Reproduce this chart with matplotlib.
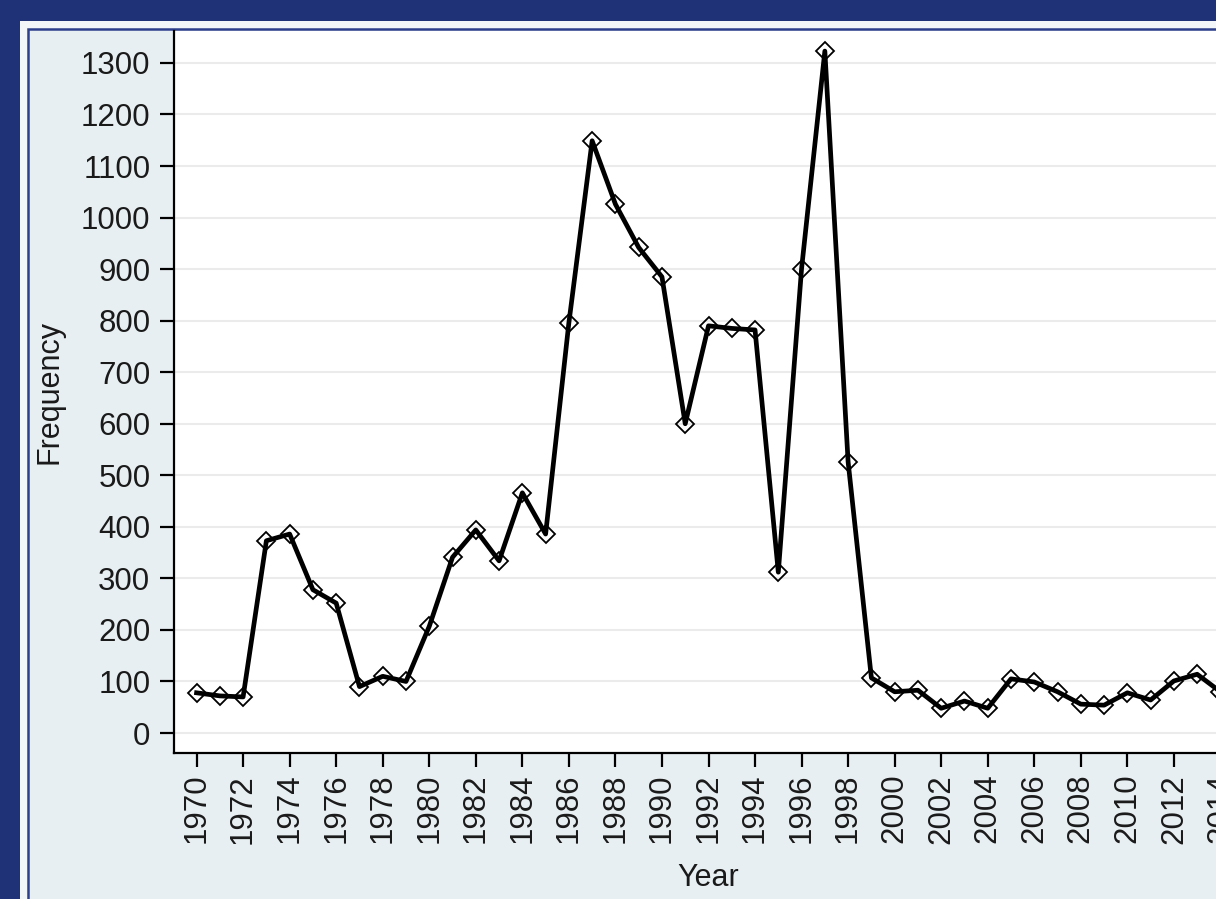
import matplotlib
matplotlib.use("Agg")
import matplotlib.pyplot as plt
from matplotlib.patches import Rectangle

plt.rcParams['font.family'] = ['Liberation Sans', 'DejaVu Sans']

years = list(range(1970, 2015))
frequency = [78, 72, 70, 373, 386, 278, 252, 90, 110, 100,
             207, 341, 394, 334, 466, 386, 796, 1149, 1026, 942,
             885, 600, 790, 785, 782, 312, 901, 1323, 526, 107,
             80, 83, 48, 62, 48, 105, 99, 80, 56, 54,
             78, 64, 101, 114, 80]
y_ticks = list(range(0, 1301, 100))
x_ticks = list(range(1970, 2015, 2))

W, H = 1216, 899
navy = '#1f3177'
fig = plt.figure(figsize=(W / 100, H / 100), dpi=100, facecolor=navy)

# outer light frame
fig.add_artist(Rectangle((20 / W, -0.01), 1.0, (H - 21) / H + 0.01,
                         transform=fig.transFigure, facecolor='#f3f6f8',
                         edgecolor='none', zorder=0))
# inner panel with blue border
fig.add_artist(Rectangle((28 / W, -0.02), 1.0, (H - 28.5) / H + 0.02,
                         transform=fig.transFigure, facecolor='#e8eff2',
                         edgecolor='#2d3f8c', linewidth=1.8, zorder=0))

ax_left, ax_right = 174, 1243
ax_top, ax_bottom = 31, 753
ax = fig.add_axes([ax_left / W, (H - ax_bottom) / H,
                   (ax_right - ax_left) / W, (ax_bottom - ax_top) / H])
ax.set_facecolor('white')

ax.plot(years, frequency, color='black', lw=3.4, marker='D', ms=9.5,
        mfc='none', mec='black', mew=1.3, zorder=3)

ax.set_xlim(1969.03, 2014.97)
ax.set_ylim(-38.8, 1362)
ax.set_yticks(y_ticks)
ax.set_xticks(x_ticks)
ax.set_xticklabels([str(x) for x in x_ticks], rotation=90)
ax.yaxis.grid(True, color='#ebebeb', lw=1.5, zorder=0)
ax.set_axisbelow(True)

for s in ['top', 'right']:
    ax.spines[s].set_visible(False)
for s in ['left', 'bottom']:
    ax.spines[s].set_linewidth(1.6)
    ax.spines[s].set_color('black')

ax.tick_params(axis='both', length=10, width=1.6, colors='black',
               labelcolor='#1a1a1a', labelsize=22.5)
ax.tick_params(axis='y', pad=7)
ax.tick_params(axis='x', pad=5)

ax.set_ylabel('Frequency', fontsize=22, color='#1a1a1a', labelpad=12)
ax.set_xlabel('Year', fontsize=22, color='#1a1a1a', labelpad=14)

fig.savefig('out.png', dpi=100, facecolor=navy)
